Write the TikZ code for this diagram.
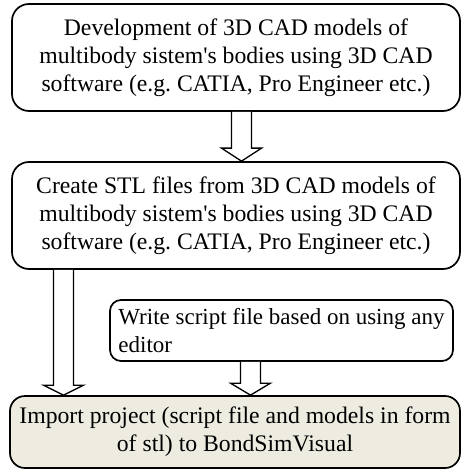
\documentclass[tikz,border=0pt]{standalone}
\usepackage{fontspec}
\setmainfont{Liberation Serif}
\usetikzlibrary{calc}
\frenchspacing
\definecolor{beige}{RGB}{238,236,225}
\tikzset{
  x=1pt,y=1pt,
  stepbox/.style={draw=black, line width=1.7pt, rounded corners=17pt, inner sep=0pt,
    font=\fontsize{23.7}{27.8}\selectfont, align=center},
  arrowline/.style={draw=black, fill=white, line width=1.3pt, line join=miter},
}
\newcommand\blockarr[3]{%
  \path[arrowline] let \p1=(#1), \p2=(#2) in
    (\x1-10pt,\y1) -- (\x1-10pt,\y2+#3) -- (\x1-20pt,\y2+#3) -- (\x1,\y2)
    -- (\x1+20pt,\y2+#3) -- (\x1+10pt,\y2+#3) -- (\x1+10pt,\y1);}
\newcommand\apo{\textquotesingle}
\begin{document}
\begin{tikzpicture}
\useasboundingbox (0,0) rectangle (461,-470);
\node[stepbox, minimum width=448pt, minimum height=107pt] (b1) at (236,-57.5)
  {Development of 3D CAD models of\\multibody sistem\apo s bodies using 3D CAD\\software (e.g. CATIA, Pro Engineer etc.)};
\node[stepbox, minimum width=448pt, minimum height=107pt] (b2) at (236,-215.5)
  {Create STL files from 3D CAD models of\\multibody sistem\apo s bodies using 3D CAD\\software (e.g. CATIA, Pro Engineer etc.)};
\node[stepbox, rounded corners=11pt, minimum width=343pt, minimum height=61pt,
  align=left, font=\fontsize{23}{27.5}\selectfont] (b3) at (281.5,-330.5)
  {Write script file based on using any\\editor};
\node[stepbox, rounded corners=15pt, fill=beige, minimum width=450pt, minimum height=72pt] (b4) at (235,-432)
  {Import project (script file and models in form\\of stl) to BondSimVisual};
\blockarr{[xshift=5.5pt]b1.south}{b2.north}{13pt}
\blockarr{[xshift=-172.5pt]b2.south}{b4.north}{10pt}
\blockarr{[xshift=-31pt]b3.south}{b4.north}{12pt}
\end{tikzpicture}
\end{document}
